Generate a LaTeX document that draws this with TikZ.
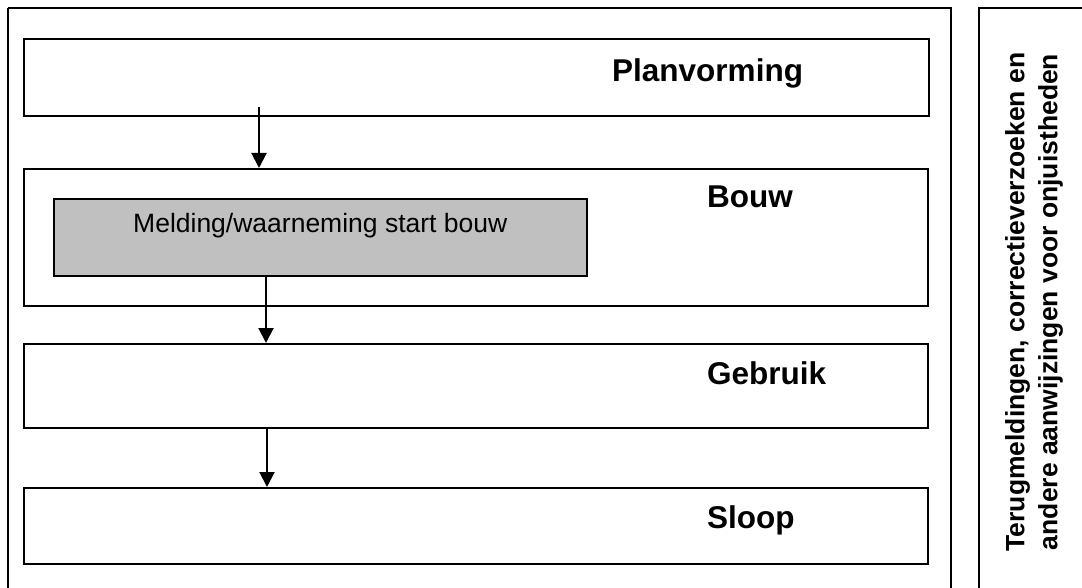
\documentclass[tikz,border=0pt]{standalone}
\usepackage{fontspec}
\setmainfont{Liberation Sans}
\usetikzlibrary{arrows.meta}
\definecolor{boxgray}{HTML}{C0C0C0}
\tikzset{
  frame/.style={draw=black, line width=2pt},
  phasebox/.style={draw=black, line width=2pt},
  phaselabel/.style={anchor=base west, inner sep=0pt, font=\bfseries\fontsize{31.5}{38}\selectfont},
  flow/.style={line width=2pt, -{Triangle[width=15pt,length=15pt]}},
}
\begin{document}
\begin{tikzpicture}[x=1pt,y=-1pt]
\useasboundingbox (0,0) rectangle (1082,588);
\clip (0,0) rectangle (1082,588);
% outer frames
\draw[frame] (8,8) -- (8,600);
\draw[frame] (8,8) -- (951,8) -- (951,600);
\draw[frame] (979,600) -- (979,8) -- (1100,8);
% phase boxes
\node[phasebox, minimum width=905pt, minimum height=77pt, anchor=north west, inner sep=0pt] (plan) at (23,38) {};
\node[phasebox, minimum width=904pt, minimum height=137pt, anchor=north west, inner sep=0pt] (bouw) at (23,168) {};
\node[draw=black, line width=2pt, fill=boxgray, minimum width=533pt, minimum height=77pt, anchor=north west, inner sep=0pt] (melding) at (53,198) {};
\node[phasebox, minimum width=904pt, minimum height=84pt, anchor=north west, inner sep=0pt] (gebruik) at (23,343) {};
\node[phasebox, minimum width=904pt, minimum height=76pt, anchor=north west, inner sep=0pt] (sloop) at (23,487) {};
% labels
\node[phaselabel] (tplan) at (612,82) {Planvorming};
\node[phaselabel] (tbouw) at (707,208) {Bouw};
\node[phaselabel] (tgebruik) at (707,384) {Gebruik};
\node[phaselabel] (tsloop) at (707,528) {Sloop};
\node[anchor=base west, inner sep=0pt, font=\fontsize{26.5}{32}\selectfont] (tmelding) at (133,233) {Melding/waarneming start bouw};
% side text
\node[rotate=90, align=center, inner sep=0pt, font=\bfseries\fontsize{26.5}{33}\selectfont] (side) at (1034,302) {Terugmeldingen, correctieverzoeken en\\andere aanwijzingen voor onjuistheden};
% arrows
\coordinate (a1s) at (259,107);
\draw[flow] (a1s) -- (a1s |- bouw.north);
\draw[flow] (melding.south -| 266,0) -- (gebruik.north -| 266,0);
\draw[flow] (gebruik.south -| 267,0) -- (sloop.north -| 267,0);
\end{tikzpicture}
\end{document}
